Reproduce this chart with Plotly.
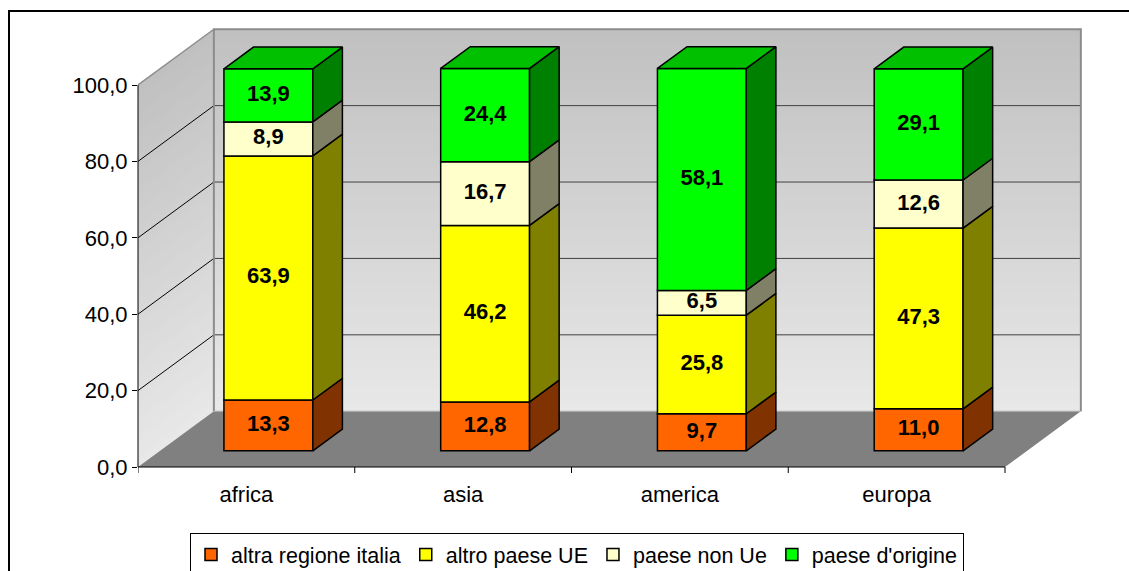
import plotly.graph_objects as go

# ---------------- data ----------------
categories = ["africa", "asia", "america", "europa"]
series_names = ["altra regione italia", "altro paese UE", "paese non Ue", "paese d'origine"]
altra_regione_italia = [13.3, 12.8, 9.7, 11.0]
altro_paese_ue = [63.9, 46.2, 25.8, 47.3]
paese_non_ue = [8.9, 16.7, 6.5, 12.6]
paese_origine = [13.9, 24.4, 58.1, 29.1]
y_ticks = [0, 20, 40, 60, 80, 100]

series_values = [altra_regione_italia, altro_paese_ue, paese_non_ue, paese_origine]
front_colors = ["#FF6600", "#FFFF00", "#FFFFCC", "#00FF00"]
side_colors = ["#803300", "#808000", "#808066", "#008000"]
top_color = "#00C000"

# ---------------- layout geometry ----------------
W, H = 1129, 571
ML, MR, MT, MB = 138, 39, 20, 104
PLOT_W = W - ML - MR
PLOT_H = H - MT - MB
PX_CAT = 216.75          # pixels per category
PX_VAL = 3.82            # pixels per value unit
X_RANGE = [-0.5, -0.5 + PLOT_W / PX_CAT]
Y_RANGE = [0, PLOT_H / PX_VAL]
YMAX = 100
NCAT = len(categories)

DX = 0.35    # depth offset in category units
DY = 14.6    # depth offset in value units
F0, F1 = 0.29, 0.68   # bar depth (front / back) as fraction of full depth
HW = 0.205            # half width of bar in category units

FONT = "Liberation Sans, Arial, sans-serif"


def paper_x(px):
    return (px - ML) / PLOT_W


def paper_y(py):
    return (H - MB - py) / PLOT_H


def fmt(v):
    return f"{v:.1f}".replace(".", ",")


fig = go.Figure()

# ---------------- bars (front faces) ----------------
bases = [[0.0] * NCAT]
for vals in series_values[:-1]:
    bases.append([b + v for b, v in zip(bases[-1], vals)])

for s, vals in enumerate(series_values):
    fig.add_trace(go.Bar(
        x=[i + F0 * DX for i in range(NCAT)],
        y=vals,
        base=[b + F0 * DY for b in bases[s]],
        width=2 * HW,
        name=series_names[s],
        marker=dict(color=front_colors[s], line=dict(color="black", width=1.5)),
        hoverinfo="skip",
        showlegend=True,
    ))

# ---------------- side faces ----------------
for s, vals in enumerate(series_values):
    xs, ys = [], []
    for i in range(NCAT):
        b = bases[s][i]
        t = b + vals[i]
        x1 = i + HW + F0 * DX
        x2 = i + HW + F1 * DX
        xs += [x1, x1, x2, x2, x1, None]
        ys += [b + F0 * DY, t + F0 * DY, t + F1 * DY, b + F1 * DY, b + F0 * DY, None]
    fig.add_trace(go.Scatter(
        x=xs, y=ys, mode="lines", fill="toself", fillcolor=side_colors[s],
        line=dict(color="black", width=1.5), hoverinfo="skip", showlegend=False,
    ))

# ---------------- top faces ----------------
xs, ys = [], []
for i in range(NCAT):
    T = bases[-1][i] + series_values[-1][i]
    x0 = i - HW + F0 * DX
    x1 = i + HW + F0 * DX
    xs += [x0, x1, x1 + (F1 - F0) * DX, x0 + (F1 - F0) * DX, x0, None]
    ys += [T + F0 * DY, T + F0 * DY, T + F1 * DY, T + F1 * DY, T + F0 * DY, None]
fig.add_trace(go.Scatter(
    x=xs, y=ys, mode="lines", fill="toself", fillcolor=top_color,
    line=dict(color="black", width=1.5), hoverinfo="skip", showlegend=False,
))

# ---------------- data labels ----------------
lx, ly, lt = [], [], []
for s, vals in enumerate(series_values):
    for i in range(NCAT):
        lx.append(i + F0 * DX)
        ly.append(bases[s][i] + vals[i] / 2 + F0 * DY)
        lt.append(fmt(vals[i]))
fig.add_trace(go.Scatter(
    x=lx, y=ly, text=lt, mode="text",
    textfont=dict(family=FONT, size=22, color="black", weight="bold"),
    hoverinfo="skip", showlegend=False,
))

# ---------------- walls, floor, gridlines (shapes below) ----------------
shapes = []


def lerp_color(c0, c1, t):
    a = [int(c0[k:k + 2], 16) for k in (1, 3, 5)]
    b = [int(c1[k:k + 2], 16) for k in (1, 3, 5)]
    return "rgb(%d,%d,%d)" % tuple(round(a[k] + (b[k] - a[k]) * t) for k in range(3))


WALL_BOTTOM = "#e8e8e8"
WALL_TOP = "#c0c0c0"
NB = 60
xl, xr = -0.5, NCAT - 0.5
for k in range(NB):
    v0 = YMAX * k / NB
    v1 = min(YMAX * (k + 1) / NB + 0.3, YMAX)
    col = lerp_color(WALL_BOTTOM, WALL_TOP, (k + 0.5) / NB)
    shapes.append(dict(type="rect", xref="x", yref="y", layer="below",
                       x0=xl + DX, x1=xr + DX, y0=v0 + DY, y1=v1 + DY,
                       fillcolor=col, line=dict(width=0)))
    shapes.append(dict(type="path", xref="x", yref="y", layer="below",
                       path=f"M{xl},{v0} L{xl + DX},{v0 + DY} L{xl + DX},{v1 + DY} L{xl},{v1} Z",
                       fillcolor=col, line=dict(width=0)))

# floor
shapes.append(dict(type="path", xref="x", yref="y", layer="below",
                   path=f"M{xl},0 L{xr},0 L{xr + DX},{DY} L{xl + DX},{DY} Z",
                   fillcolor="#808080", line=dict(width=0)))

# gridlines
for v in y_ticks[1:-1]:
    shapes.append(dict(type="line", xref="x", yref="y", layer="below",
                       x0=xl + DX, x1=xr + DX, y0=v + DY, y1=v + DY,
                       line=dict(color="#404040", width=1)))
    shapes.append(dict(type="line", xref="x", yref="y", layer="below",
                       x0=xl, x1=xl + DX, y0=v, y1=v + DY,
                       line=dict(color="black", width=1)))

# wall edges
shapes.append(dict(type="path", xref="x", yref="y", layer="below",
                   path=f"M{xl + DX},{DY} L{xl + DX},{YMAX + DY} L{xr + DX},{YMAX + DY} L{xr + DX},{DY}",
                   line=dict(color="#8c8c8c", width=2)))
shapes.append(dict(type="line", xref="x", yref="y", layer="below",
                   x0=xl, x1=xl + DX, y0=YMAX, y1=YMAX + DY,
                   line=dict(color="#8c8c8c", width=1.5)))
shapes.append(dict(type="line", xref="x", yref="y", layer="below",
                   x0=xl + DX, x1=xr + DX, y0=DY, y1=DY,
                   line=dict(color="#b0b0b0", width=1)))

# front axes lines and category boundary ticks
shapes.append(dict(type="line", xref="paper", yref="y", x0=0, x1=0, y0=0, y1=YMAX,
                   line=dict(color="black", width=1)))
shapes.append(dict(type="line", xref="x", yref="paper", x0=xl, x1=xr, y0=0, y1=0,
                   line=dict(color="black", width=1)))
for i in range(NCAT + 1):
    shapes.append(dict(type="line", xref="x", yref="paper", x0=i - 0.5, x1=i - 0.5,
                       y0=0, y1=paper_y(H - MB + 6), line=dict(color="black", width=1)))

# outer frame
shapes.append(dict(type="rect", xref="paper", yref="paper",
                   x0=paper_x(9), x1=paper_x(W + 20), y0=paper_y(11), y1=paper_y(H + 20),
                   line=dict(color="black", width=2), fillcolor="rgba(0,0,0,0)"))

fig.update_layout(
    width=W, height=H,
    margin=dict(l=ML, r=MR, t=MT, b=MB, autoexpand=False),
    paper_bgcolor="white", plot_bgcolor="white",
    barmode="overlay",
    separators=",.",
    shapes=shapes,
    font=dict(family=FONT, size=22, color="black"),
    showlegend=True,
    legend=dict(
        orientation="h", x=paper_x(190), y=paper_y(533), xanchor="left", yanchor="top",
        bordercolor="black", borderwidth=1, bgcolor="white",
        font=dict(family=FONT, size=21.5, color="black"), traceorder="normal",
        itemclick=False, itemdoubleclick=False,
    ),
    xaxis=dict(range=X_RANGE, tickvals=list(range(NCAT)), ticktext=categories,
               ticks="", showgrid=False, zeroline=False, showline=False,
               tickfont=dict(family=FONT, size=22, color="black"),
               ticklabelstandoff=12, fixedrange=True),
    yaxis=dict(range=Y_RANGE, tickvals=y_ticks, tickformat=".1f",
               ticks="outside", ticklen=5, tickcolor="black", tickwidth=1,
               showgrid=False, zeroline=False, showline=False,
               tickfont=dict(family=FONT, size=22, color="black"),
               fixedrange=True),
)

fig.write_html(
    "out.html",
    config={"displayModeBar": False},
    post_script="document.body.style.margin='0';document.body.style.overflow='hidden';",
)
